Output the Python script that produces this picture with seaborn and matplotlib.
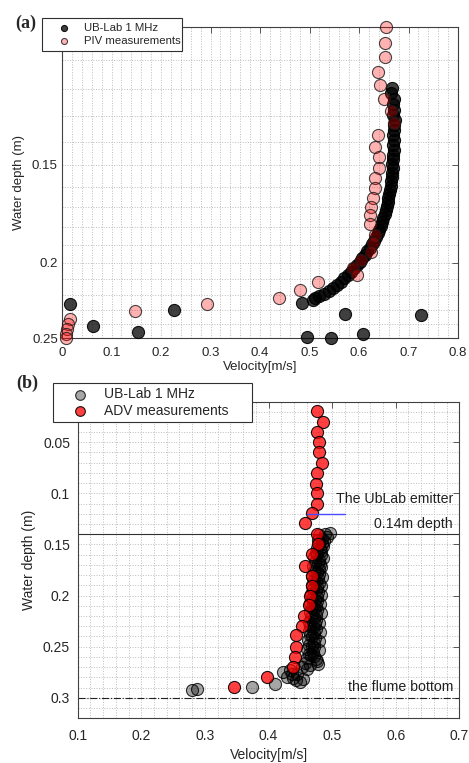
import matplotlib
matplotlib.use("Agg")
import matplotlib.pyplot as plt
import matplotlib.ticker as mticker
import seaborn as sns
import numpy as np
import pandas as pd

# ---- panel (a): UB-Lab 1 MHz vs PIV ----
ub_a_vel = [0.667, 0.664, 0.670, 0.668, 0.671, 0.669, 0.672, 0.670, 0.671, 0.669,
            0.671, 0.669, 0.670, 0.668, 0.669, 0.667, 0.668, 0.666, 0.666, 0.664,
            0.664, 0.662, 0.661, 0.659, 0.658, 0.656, 0.654, 0.652, 0.649, 0.647,
            0.644, 0.641, 0.638, 0.634, 0.630, 0.626, 0.622, 0.617, 0.612, 0.607,
            0.602, 0.596, 0.590, 0.584, 0.577, 0.570, 0.563, 0.556, 0.548, 0.539,
            0.530, 0.520, 0.512, 0.507,
            0.016, 0.062, 0.154, 0.226, 0.484, 0.495, 0.543, 0.571, 0.608, 0.726]
ub_a_depth = [0.1195, 0.1215, 0.1235, 0.1255, 0.1275, 0.1295, 0.1315, 0.1335, 0.1355, 0.1375,
              0.1395, 0.1415, 0.1435, 0.1455, 0.1475, 0.1495, 0.1515, 0.1535, 0.1555, 0.1575,
              0.1595, 0.1615, 0.1635, 0.1655, 0.1675, 0.1695, 0.1715, 0.1735, 0.1755, 0.1775,
              0.1795, 0.1815, 0.1835, 0.1855, 0.1875, 0.1895, 0.1915, 0.1935, 0.1955, 0.1975,
              0.1995, 0.2015, 0.2035, 0.2055, 0.2075, 0.2095, 0.2115, 0.2135, 0.2155, 0.2175,
              0.2195, 0.2210, 0.2222, 0.2232,
              0.2260, 0.2414, 0.2455, 0.2298, 0.2250, 0.2490, 0.2500, 0.2325, 0.2470, 0.2337]

piv_vel = [0.655, 0.653, 0.652, 0.639, 0.643, 0.650, 0.665, 0.670, 0.639, 0.632,
           0.640, 0.640, 0.632, 0.632, 0.628, 0.625, 0.622, 0.622, 0.632, 0.628,
           0.625, 0.605, 0.588, 0.595, 0.517, 0.480, 0.439, 0.292, 0.147, 0.016,
           0.013, 0.010, 0.008, 0.008]
piv_depth = [0.1000, 0.1046, 0.1092, 0.1140, 0.1184, 0.1235, 0.1278, 0.1325, 0.1373, 0.1421,
             0.1466, 0.1515, 0.1560, 0.1605, 0.1655, 0.1700, 0.1740, 0.1785, 0.1845, 0.1890,
             0.1940, 0.1985, 0.2035, 0.2077, 0.2118, 0.2170, 0.2220, 0.2260, 0.2310, 0.2360,
             0.2396, 0.2430, 0.2467, 0.2500]

# ---- panel (b): UB-Lab 1 MHz vs ADV ----
ub_b_vel = [0.497, 0.489, 0.492, 0.484, 0.488, 0.479, 0.486, 0.476, 0.483, 0.474,
            0.482, 0.471, 0.480, 0.473, 0.481, 0.470, 0.479, 0.472, 0.480, 0.469,
            0.478, 0.471, 0.479, 0.468, 0.477, 0.470, 0.478, 0.467, 0.476, 0.469,
            0.477, 0.466, 0.475, 0.468, 0.476, 0.465, 0.474, 0.467, 0.475, 0.464,
            0.473, 0.466, 0.474, 0.463, 0.472, 0.465, 0.473, 0.462, 0.471, 0.464,
            0.472, 0.461, 0.470, 0.463, 0.471, 0.460, 0.476, 0.478, 0.458, 0.452,
            0.434, 0.423, 0.445, 0.429, 0.439, 0.455, 0.450, 0.410, 0.374, 0.287, 0.279,
            0.480, 0.478, 0.484, 0.481, 0.477, 0.485, 0.478, 0.483, 0.476, 0.484,
            0.475, 0.482, 0.474, 0.483, 0.473, 0.481, 0.472, 0.482, 0.471, 0.480,
            0.470, 0.481, 0.469, 0.479, 0.468, 0.480, 0.467, 0.474, 0.465, 0.460,
            0.437, 0.444]
ub_b_depth = [0.1385, 0.1400, 0.1425, 0.1445, 0.1470, 0.1490, 0.1515, 0.1535, 0.1560, 0.1580,
              0.1605, 0.1625, 0.1650, 0.1670, 0.1695, 0.1715, 0.1740, 0.1760, 0.1785, 0.1805,
              0.1830, 0.1850, 0.1875, 0.1895, 0.1920, 0.1940, 0.1965, 0.1985, 0.2010, 0.2030,
              0.2055, 0.2075, 0.2100, 0.2120, 0.2145, 0.2165, 0.2190, 0.2210, 0.2235, 0.2255,
              0.2280, 0.2300, 0.2325, 0.2345, 0.2370, 0.2390, 0.2415, 0.2435, 0.2460, 0.2480,
              0.2505, 0.2525, 0.2550, 0.2570, 0.2595, 0.2615, 0.2640, 0.2666, 0.2660, 0.2700,
              0.2730, 0.2747, 0.2765, 0.2796, 0.2810, 0.2812, 0.2845, 0.2860, 0.2890, 0.2910, 0.2925,
              0.1410, 0.1455, 0.1500, 0.1545, 0.1590, 0.1635, 0.1680, 0.1725, 0.1770, 0.1815,
              0.1860, 0.1905, 0.1950, 0.1995, 0.2040, 0.2085, 0.2130, 0.2175, 0.2220, 0.2265,
              0.2310, 0.2355, 0.2400, 0.2445, 0.2490, 0.2535, 0.2580, 0.2625, 0.2680, 0.2720,
              0.2770, 0.2830]

adv_vel = [0.476, 0.485, 0.476, 0.479, 0.479, 0.484, 0.477, 0.474, 0.476, 0.477,
           0.469, 0.457, 0.476, 0.478, 0.468, 0.457, 0.469, 0.468, 0.466, 0.464,
           0.456, 0.452, 0.444, 0.444, 0.442, 0.439, 0.398, 0.345]
adv_depth = [0.0192, 0.0299, 0.0403, 0.0500, 0.0597, 0.0704, 0.0800, 0.0905, 0.1000, 0.1100,
             0.1197, 0.1294, 0.1400, 0.1500, 0.1597, 0.1710, 0.1807, 0.1905, 0.2002, 0.2090,
             0.2197, 0.2294, 0.2390, 0.2504, 0.2601, 0.2700, 0.2796, 0.2893]

a_xticks = [0, 0.1, 0.2, 0.3, 0.4, 0.5, 0.6, 0.7, 0.8]
a_xlabels = ['0', '0.1', '0.2', '0.3', '0.4', '0.5', '0.6', '0.7', '0.8']
a_yticks = [0.15, 0.2, 0.25]
a_ylabels = ['0.15', '0.2', '0.25']
b_xticks = [0.1, 0.2, 0.3, 0.4, 0.5, 0.6, 0.7]
b_xlabels = ['0.1', '0.2', '0.3', '0.4', '0.5', '0.6', '0.7']
b_yticks = [0.05, 0.1, 0.15, 0.2, 0.25, 0.3]
b_ylabels = ['0.05', '0.1', '0.15', '0.2', '0.25', '0.3']

sns.set_style('white')
plt.rcParams['font.family'] = ['Liberation Sans', 'DejaVu Sans']

fig = plt.figure(figsize=(4.69, 7.63), dpi=100)
ax_a = fig.add_axes([62 / 469, 1 - 338.3 / 763, 396 / 469, 311 / 763])
ax_b = fig.add_axes([77.7 / 469, 1 - 718.3 / 763, 381.6 / 469, 316 / 763])

MS = 76


def style_axes(ax, fs):
    ax.set_axisbelow(True)
    ax.grid(which='both', linestyle=':', color='#bcbcbc', linewidth=0.7)
    for sp in ax.spines.values():
        sp.set_visible(True)
        sp.set_color('#404040')
        sp.set_linewidth(0.8)
    ax.tick_params(which='major', direction='in', top=True, right=True,
                   length=4, width=0.6, color='#404040', labelsize=fs,
                   labelcolor='#262626')
    ax.tick_params(which='minor', length=0)


# panel (a)
df_ub_a = pd.DataFrame({'vel': ub_a_vel, 'depth': ub_a_depth})
df_piv = pd.DataFrame({'vel': piv_vel, 'depth': piv_depth})
sns.scatterplot(data=df_ub_a, x='vel', y='depth', ax=ax_a, s=MS,
                color=(0, 0, 0, 0.75), edgecolor=(0, 0, 0, 0.9), linewidth=0.8,
                label='UB-Lab 1 MHz', clip_on=False, zorder=3)
sns.scatterplot(data=df_piv, x='vel', y='depth', ax=ax_a, s=MS,
                color=(1, 0, 0, 0.3), edgecolor=(0.1, 0.1, 0.1, 0.8), linewidth=0.8,
                label='PIV measurements', clip_on=False, zorder=4)
ax_a.set_yscale('log')
ax_a.set_xlim(0, 0.8)
ax_a.set_ylim(0.25, 0.1)
ax_a.xaxis.set_major_locator(mticker.FixedLocator(a_xticks))
ax_a.xaxis.set_major_formatter(mticker.FixedFormatter(a_xlabels))
ax_a.xaxis.set_minor_locator(mticker.MultipleLocator(0.02))
ax_a.yaxis.set_major_locator(mticker.FixedLocator(a_yticks))
ax_a.yaxis.set_major_formatter(mticker.FixedFormatter(a_ylabels))
ax_a.yaxis.set_minor_locator(mticker.FixedLocator(np.arange(0.11, 0.245, 0.01)))
ax_a.yaxis.set_minor_formatter(mticker.NullFormatter())
style_axes(ax_a, 9.5)
ax_a.tick_params(axis='x', pad=6)
ax_a.tick_params(axis='y', pad=3)
ax_a.set_xlabel('Velocity[m/s]', fontsize=9.5, color='#262626', labelpad=2)
ax_a.set_ylabel('Water depth (m)', fontsize=9.5, color='#262626', labelpad=5)
leg_a = ax_a.legend(loc='upper left', bbox_to_anchor=(42 / 469, 1 - 18 / 763, 140 / 469, 0),
                    bbox_transform=fig.transFigure, borderaxespad=0, mode='expand',
                    fontsize=8.2, markerscale=0.5, frameon=True, fancybox=False,
                    framealpha=1, edgecolor='#303030', handlelength=3.0,
                    handletextpad=0.3, borderpad=0.4, labelspacing=0.3)
leg_a.get_frame().set_linewidth(0.8)
leg_a.set_zorder(10)

# panel (b)
df_ub_b = pd.DataFrame({'vel': ub_b_vel, 'depth': ub_b_depth})
df_adv = pd.DataFrame({'vel': adv_vel, 'depth': adv_depth})
sns.scatterplot(data=df_ub_b, x='vel', y='depth', ax=ax_b, s=MS,
                color=(0, 0, 0, 0.35), edgecolor=(0, 0, 0, 0.8), linewidth=0.8,
                label='UB-Lab 1 MHz', clip_on=False, zorder=3)
sns.scatterplot(data=df_adv, x='vel', y='depth', ax=ax_b, s=MS,
                color=(1, 0, 0, 0.75), edgecolor=(0, 0, 0, 0.9), linewidth=0.8,
                label='ADV measurements', clip_on=False, zorder=4)
ax_b.set_xlim(0.1, 0.7)
ax_b.set_ylim(0.32, 0.011)
ax_b.axhline(0.14, color='#303030', linewidth=0.8, zorder=2)
ax_b.axhline(0.3, color='#202020', linewidth=0.8, linestyle='-.', zorder=2)
ax_b.plot([0.46, 0.52], [0.12, 0.12], color='#4a4aff', linewidth=1, zorder=5)
ax_b.text(0.69, 0.1055, 'The UbLab emitter', ha='right', va='center', fontsize=10.2, color='#202020')
ax_b.text(0.69, 0.1298, '0.14m depth', ha='right', va='center', fontsize=10.2, color='#202020')
ax_b.text(0.69, 0.2893, 'the flume bottom', ha='right', va='center', fontsize=10.2, color='#202020')
ax_b.xaxis.set_major_locator(mticker.FixedLocator(b_xticks))
ax_b.xaxis.set_major_formatter(mticker.FixedFormatter(b_xlabels))
ax_b.xaxis.set_minor_locator(mticker.MultipleLocator(0.02))
ax_b.yaxis.set_major_locator(mticker.FixedLocator(b_yticks))
ax_b.yaxis.set_major_formatter(mticker.FixedFormatter(b_ylabels))
ax_b.yaxis.set_minor_locator(mticker.MultipleLocator(0.01))
style_axes(ax_b, 10)
ax_b.tick_params(axis='x', pad=8)
ax_b.tick_params(axis='y', pad=5.5)
ax_b.set_xlabel('Velocity[m/s]', fontsize=10, color='#262626', labelpad=3)
ax_b.set_ylabel('Water depth (m)', fontsize=10, color='#262626', labelpad=5)
leg_b = ax_b.legend(loc='upper left', bbox_to_anchor=(53 / 469, 1 - 383 / 763, 199 / 469, 0),
                    bbox_transform=fig.transFigure, borderaxespad=0, mode='expand',
                    fontsize=10, markerscale=0.8, frameon=True, fancybox=False,
                    framealpha=1, edgecolor='#303030', handlelength=3.3,
                    handletextpad=0.1, borderpad=0.3, labelspacing=0.2)
leg_b.get_frame().set_linewidth(0.8)
leg_b.set_zorder(10)

fig.text(15 / 469, 1 - 23 / 763, '(a)', ha='left', va='center', fontsize=13,
         fontweight='bold', family='Liberation Serif')
fig.text(16 / 469, 1 - 383 / 763, '(b)', ha='left', va='center', fontsize=13,
         fontweight='bold', family='Liberation Serif')

fig.savefig('out.png', dpi=100)
